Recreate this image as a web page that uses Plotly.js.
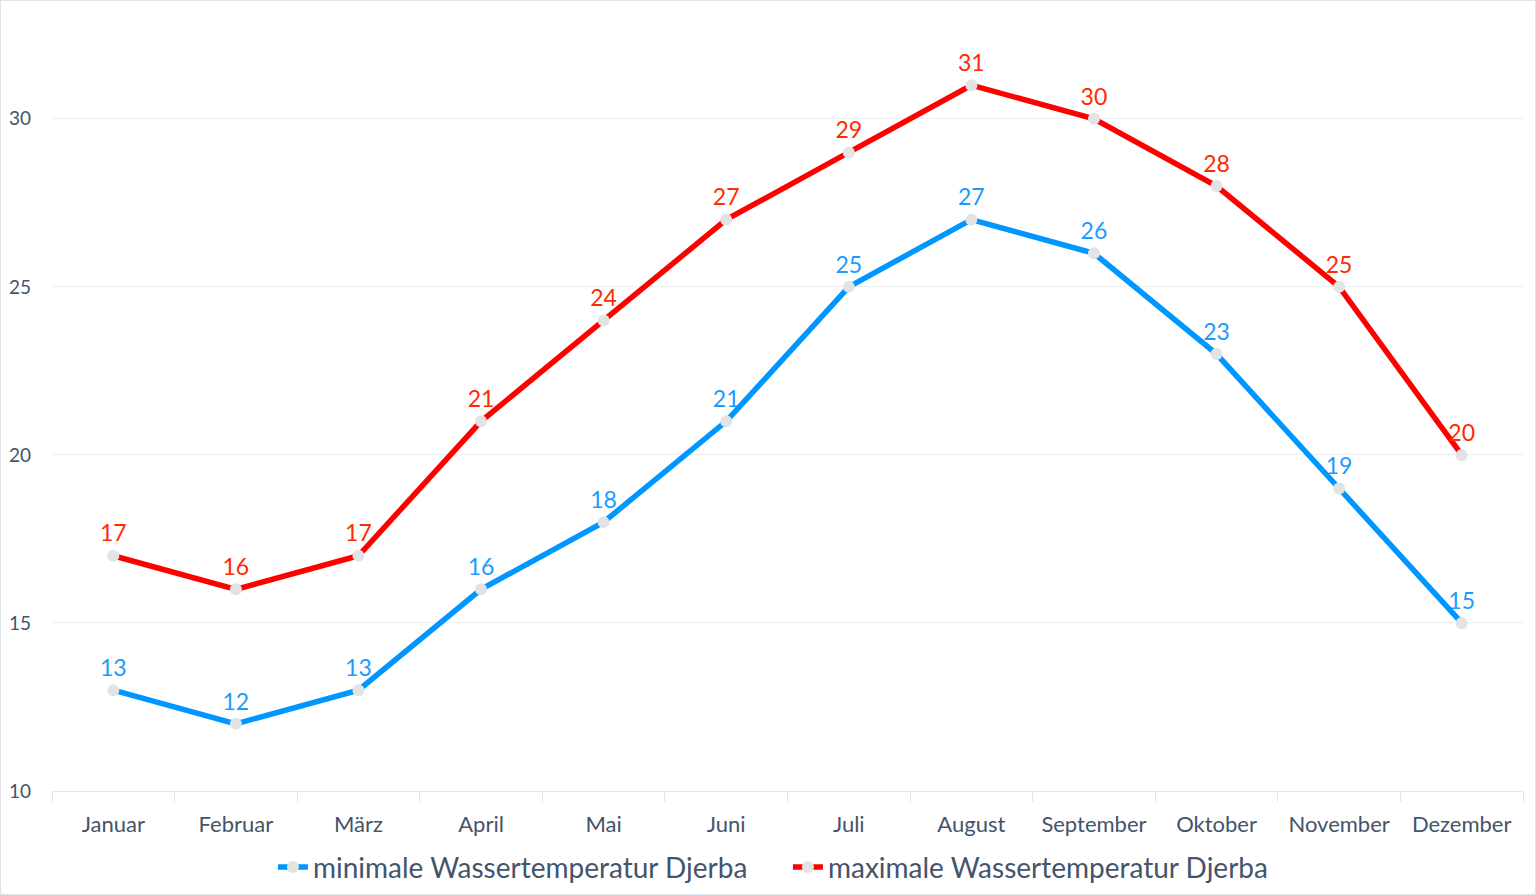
<!DOCTYPE html>
<html><head><meta charset="utf-8">
<script src="https://cdn.plot.ly/plotly-3.0.1.min.js"></script>
<style>html,body{margin:0;padding:0;background:#fff}#c{width:1534px;height:893px;border:1px solid #dfe3e8}</style>
</head><body><div id="c"></div>
<script>
const months = ["Januar","Februar","März","April","Mai","Juni","Juli","August","September","Oktober","November","Dezember"];
const minTemp = [13,12,13,16,18,21,25,27,26,23,19,15];
const maxTemp = [17,16,17,21,24,27,29,31,30,28,25,20];
const minName = "minimale Wassertemperatur Djerba";
const maxName = "maximale Wassertemperatur Djerba";
const blue = "#0096ff", red = "#ff0000";
function tr(y, name, col, tcol){
  return {x: months, y: y, name: name, type:"scatter", mode:"lines+markers+text",
    text: y.map(String), textposition:"top center",
    textfont:{family:"Lato, sans-serif", size:23, color:tcol},
    line:{color:col, width:5.5}, marker:{color:"#e3e3e3", size:12},
    cliponaxis:false};
}
const data = [tr(minTemp, minName, blue, "#1a9bff"), tr(maxTemp, maxName, red, "#ff2a00")];
const layout = {
  width:1534, height:893,
  margin:{l:51, r:12, t:17, b:103, autoexpand:false},
  paper_bgcolor:"#fff", plot_bgcolor:"#fff",
  font:{family:"Lato, sans-serif", color:"#44546a"},
  showlegend:true,
  legend:{orientation:"h", x:0.513, xanchor:"center", xref:"container", yref:"container", y:0.03, yanchor:"middle",
    font:{size:28, color:"#44546a"}, itemwidth:30, tracegroupgap:0, entrywidth:470, entrywidthmode:"pixels"},
  xaxis:{type:"category", tickson:"boundaries", ticks:"outside", ticklen:10, tickcolor:"#e3e6ea",
    showline:true, linecolor:"#e3e6ea", linewidth:1, showgrid:false, automargin:false,
    tickfont:{size:22, color:"#44546a"}, ticklabelstandoff:14, range:[-0.5,11.5]},
  yaxis:{range:[10,33], tickvals:[10,15,20,25,30], ticktext:["10","15","20","25","30"],
    showgrid:true, gridcolor:"#eceef1", zeroline:false, showline:false, automargin:false,
    tickfont:{size:19, color:"#44546a"}, ticklabelstandoff:20}
};
Plotly.newPlot("c", data, layout, {displayModeBar:false, staticPlot:true});
</script></body></html>
